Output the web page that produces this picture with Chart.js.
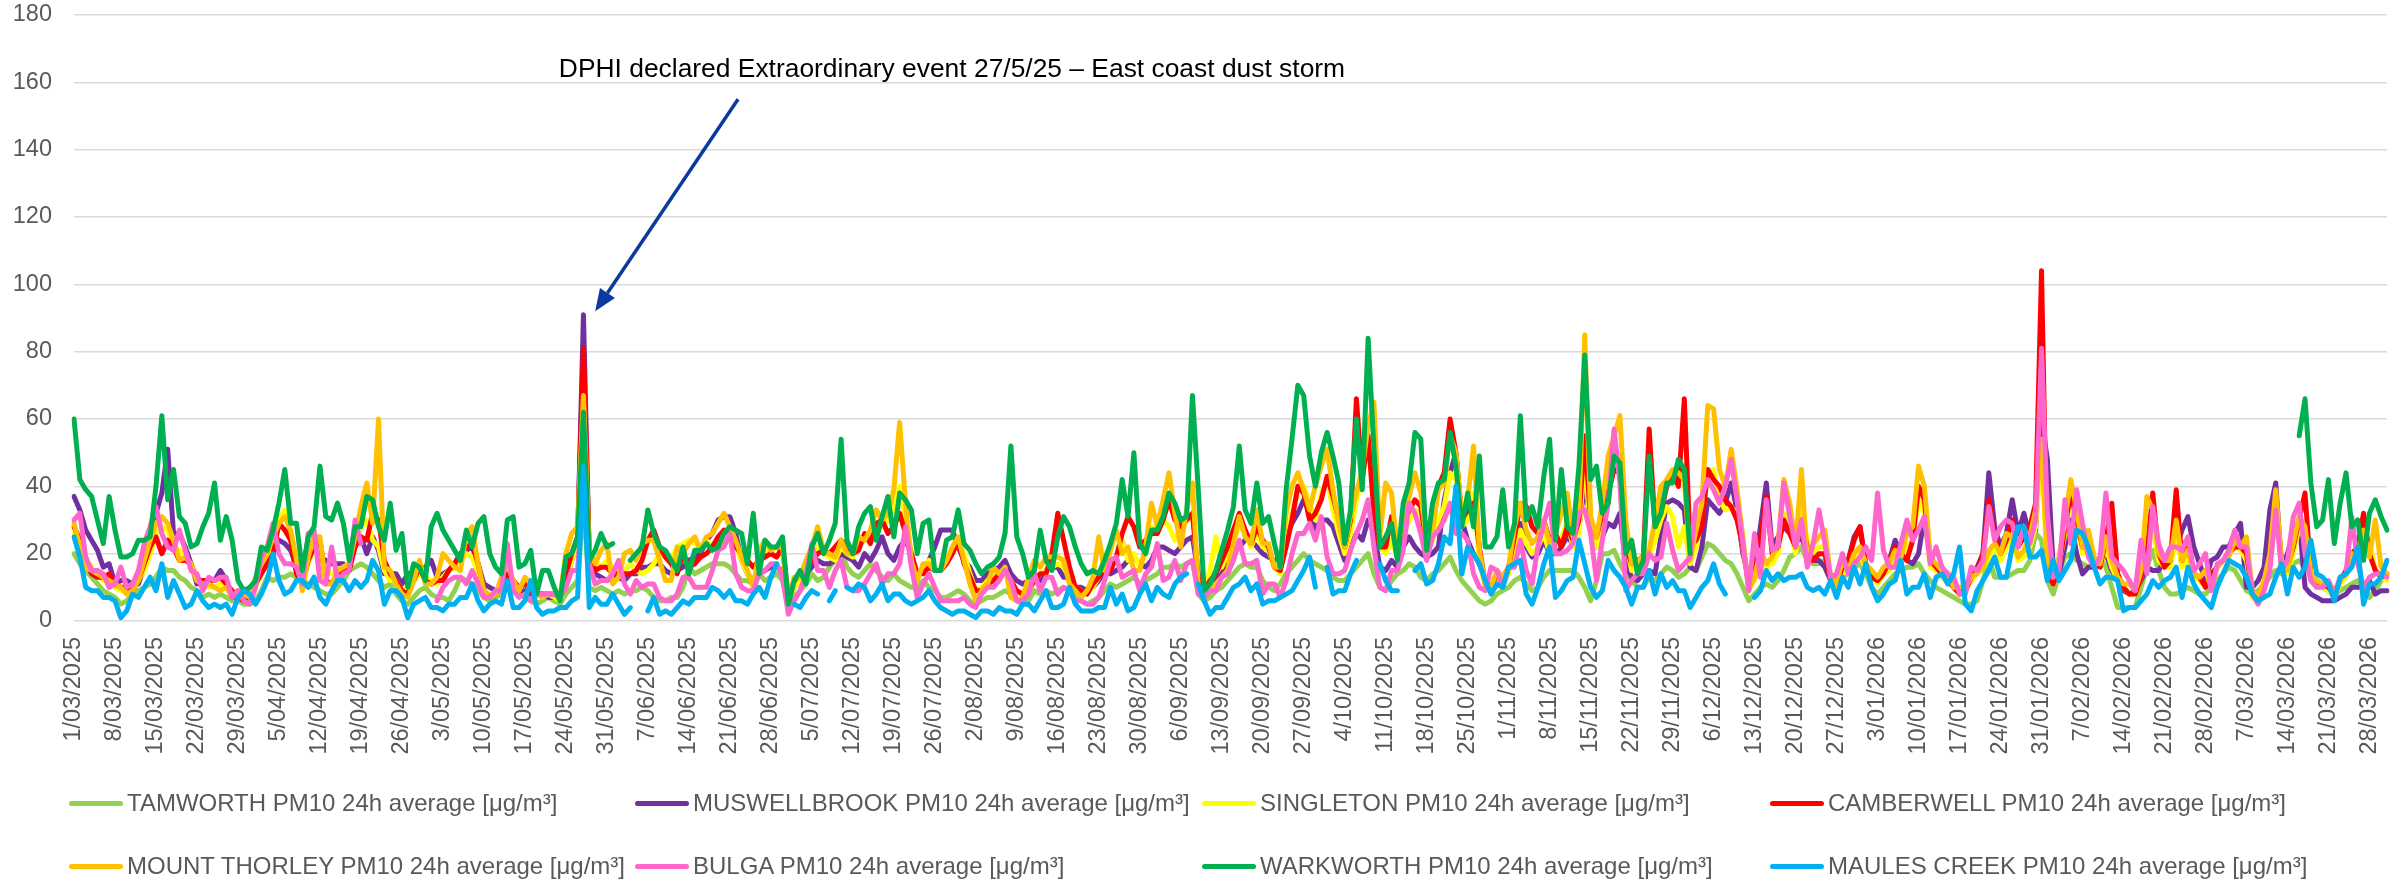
<!DOCTYPE html>
<html>
<head>
<meta charset="utf-8">
<script src="https://cdn.jsdelivr.net/npm/chart.js@4.4.1/dist/chart.umd.min.js"></script>
<style>
    html, body { margin: 0; padding: 0; background: #fff; }
    #wrap { position: relative; width: 2400px; height: 882px; }
    #myChart { position: absolute; left: 0; top: 0; }
    .legend-item {
        position: absolute; display: flex; align-items: center; height: 30px;
        font-family: 'Liberation Sans', Arial, sans-serif; font-size: 24px;
        color: #595959; white-space: nowrap;
    }
    .legend-item .swatch { width: 54px; height: 5px; border-radius: 3px; margin-right: 4px; }
</style>
</head>
<body>
<div id="wrap">
    <canvas id="myChart" width="2400" height="882"></canvas>
    <div id="legend"></div>
</div>
<script>
const _ = null;

// one value per day, 1/03/2025 .. 31/03/2026 (rows of 14 days)
const tamworth = [
    20,17,15,13,11,9,8,7,5,6,8,9,10,11,
    13,16,15,15,13,12,10,9,7,8,7,8,7,6,
    6,5,5,6,9,13,12,13,13,14,13,12,11,10,
    9,8,8,10,12,15,16,17,16,14,12,10,11,8,
    6,5,7,9,10,8,7,7,6,9,13,12,11,9,
    7,6,7,8,10,9,8,7,6,5,6,7,6,5,
    8,10,12,35,10,9,10,9,8,9,8,9,9,10,
    9,7,6,6,7,7,10,16,14,15,16,17,17,17,
    16,14,12,12,11,14,12,13,14,12,4,7,9,11,
    14,12,13,16,18,21,16,14,13,15,17,15,13,12,
    14,12,11,10,10,12,10,9,7,7,8,9,8,6,
    5,6,7,7,8,9,8,6,5,6,9,8,9,8,
    9,10,9,7,6,5,6,7,9,11,10,11,12,13,
    11,12,13,14,16,16,17,16,17,18,8,6,7,9,
    10,12,14,16,17,16,16,12,10,9,11,14,16,18,
    20,18,17,16,15,13,12,12,14,16,18,20,14,10,
    9,12,14,15,17,16,13,12,14,15,17,19,15,12,
    10,8,6,5,6,8,9,10,12,13,11,9,10,13,
    15,15,15,15,15,13,10,6,12,20,20,21,17,14,
    12,10,10,13,12,14,16,15,13,14,16,15,19,23,
    22,20,18,17,14,10,6,8,10,11,10,12,15,19,
    20,22,18,17,17,18,13,12,13,14,16,17,14,10,
    8,10,12,14,15,16,16,17,14,12,10,9,8,7,
    6,5,5,6,12,19,13,13,13,14,15,15,18,26,
    24,12,8,14,19,20,18,17,16,17,19,16,10,4,
    4,4,4,10,16,21,15,10,8,8,9,10,9,8,
    8,10,12,14,16,15,12,9,8,9,11,13,15,14,
    16,17,18,16,14,12,10,9,8,9,10,11,12,10,
    7,9,12,14
];

const muswellbrook = [
    37,33,27,24,21,16,17,11,12,12,11,11,16,25,
    32,38,51,26,26,22,17,11,12,12,12,15,12,7,
    7,6,8,12,17,21,25,24,23,21,16,12,19,25,
    19,18,17,17,17,15,24,25,20,25,21,14,14,14,
    11,14,14,15,16,18,13,14,15,17,20,21,22,17,
    11,10,9,9,12,11,9,9,8,8,8,7,7,7,
    12,18,24,91,18,14,13,12,13,13,12,14,14,16,
    16,17,17,15,14,15,16,18,19,20,24,26,30,31,
    31,26,18,14,12,14,15,16,16,15,6,10,12,14,
    16,18,17,17,18,20,19,18,16,20,18,21,25,20,
    18,22,24,20,14,15,18,22,27,27,27,22,18,16,
    12,12,14,15,16,18,14,12,11,12,14,12,15,16,
    16,13,13,10,10,9,10,12,15,14,15,16,18,19,
    17,16,18,22,22,21,20,22,24,25,14,9,10,12,
    14,17,20,22,24,24,22,20,19,18,19,25,29,32,
    36,33,27,30,30,28,23,18,22,26,24,30,27,16,
    15,18,16,22,25,22,20,19,20,22,36,44,50,30,
    24,20,17,12,10,12,13,15,20,29,22,19,20,24,
    20,20,22,25,23,28,40,30,22,25,29,28,32,17,
    13,12,14,15,14,25,35,36,35,33,16,15,22,36,
    34,32,35,41,33,20,13,16,28,41,22,25,28,26,
    23,25,20,18,18,16,12,13,16,18,25,28,17,14,
    13,15,18,24,20,18,17,20,31,19,16,14,13,12,
    9,10,14,16,20,44,28,22,26,36,26,32,25,27,
    60,48,16,14,22,30,20,14,16,16,18,20,15,12,
    9,8,9,12,16,15,15,18,20,22,27,31,22,17,
    12,18,19,22,22,26,29,10,10,12,16,33,41,16,
    20,26,30,10,8,7,6,6,6,7,8,10,10,10,
    12,8,9,9
];

const singleton = [
    26,22,18,16,14,12,12,10,9,9,10,12,15,20,
    26,28,27,22,21,20,16,12,11,10,10,11,10,8,
    8,7,7,10,14,18,24,30,33,26,18,12,17,22,
    20,15,14,15,16,17,22,28,30,24,22,15,12,12,
    9,10,12,14,13,12,11,13,15,16,18,20,19,14,
    9,8,8,10,14,12,10,11,10,8,7,8,7,6,
    12,18,24,55,20,18,16,18,16,14,15,17,15,14,
    15,17,20,19,18,22,23,24,23,22,24,22,24,23,
    25,22,18,14,12,17,20,21,22,20,6,10,12,16,
    18,22,20,19,18,22,20,19,22,24,25,27,28,30,
    33,40,30,20,14,16,18,15,16,18,20,24,20,14,
    9,10,12,14,14,15,12,8,8,9,12,14,15,16,
    17,16,13,10,9,8,10,13,20,16,18,24,18,20,
    16,20,28,26,30,28,24,27,30,32,12,9,15,25,
    16,20,24,28,26,22,26,22,21,16,14,25,32,38,
    40,35,30,38,42,33,26,20,26,36,42,55,38,22,
    20,24,19,25,30,33,32,20,24,30,34,44,42,28,
    30,38,18,10,9,12,11,14,22,27,23,20,22,26,
    20,22,24,30,22,26,48,26,22,28,38,46,48,24,
    15,16,17,19,24,30,34,31,22,28,17,22,30,44,
    45,36,33,34,32,22,10,12,18,16,17,20,32,28,
    20,33,24,20,22,22,12,10,15,14,18,20,15,13,
    11,14,15,18,18,22,24,36,32,16,15,13,12,10,
    8,9,12,14,16,19,22,18,22,24,18,19,22,28,
    50,15,11,17,26,36,30,20,24,17,16,22,16,12,
    10,8,8,13,30,28,18,16,16,25,16,19,13,12,
    10,14,16,18,20,22,21,18,7,6,10,18,34,16,
    14,20,28,24,12,10,10,9,7,11,13,18,17,22,
    24,15,13,12
];

const camberwell = [
    28,24,18,14,13,13,14,11,10,10,9,12,17,22,
    25,20,24,22,18,18,17,12,12,12,12,13,11,9,
    7,6,7,11,14,17,20,29,27,24,14,11,18,22,
    24,12,11,13,15,15,22,25,24,32,30,18,14,12,
    9,8,12,16,12,11,12,12,15,17,20,22,23,17,
    9,7,8,11,14,12,10,11,9,8,8,8,8,7,
    14,20,25,81,20,15,16,16,14,14,14,14,15,18,
    24,27,22,19,17,14,20,16,17,19,20,22,25,27,
    26,22,20,18,16,18,19,20,19,22,7,12,14,16,
    18,20,21,20,22,24,22,20,21,26,23,29,30,26,
    28,32,26,20,14,14,16,15,15,17,20,24,17,13,
    9,9,11,12,14,15,12,9,8,9,12,14,14,20,
    32,24,16,10,9,8,11,13,16,15,19,26,31,28,
    22,24,26,26,30,36,30,28,30,32,13,9,12,14,
    18,22,27,32,27,23,28,24,22,16,15,22,30,40,
    38,30,32,36,43,37,30,22,30,66,42,55,32,22,
    22,31,19,28,33,36,34,22,28,40,44,60,50,30,
    33,35,22,11,10,14,13,16,25,35,34,28,26,30,
    24,26,22,28,24,30,55,30,25,32,38,45,44,22,
    17,18,19,57,28,32,40,44,40,66,22,24,28,45,
    42,40,36,34,30,22,11,14,24,37,20,22,30,26,
    22,30,22,18,20,20,12,11,16,18,24,28,16,13,
    12,14,18,22,20,18,24,40,36,18,16,14,12,10,
    8,9,13,15,20,36,25,20,24,30,22,25,28,35,
    104,14,11,16,28,38,30,22,26,17,16,24,35,14,
    10,8,8,13,20,38,20,16,18,39,18,22,14,13,
    10,14,16,18,20,22,22,20,8,7,11,20,36,17,
    16,22,30,38,14,11,11,10,8,12,15,20,22,32,
    20,15,13,14
];

const mountThorley = [
    29,22,16,15,14,13,12,11,10,8,9,12,18,24,
    29,31,29,24,18,19,17,12,11,11,10,9,10,7,
    9,8,7,13,17,20,25,29,31,27,18,9,19,25,
    25,11,11,15,16,17,25,34,41,29,60,16,15,11,
    8,7,12,18,11,11,13,20,18,16,15,26,28,17,
    9,7,8,13,17,12,9,13,11,8,7,8,8,7,
    20,26,28,67,21,17,21,23,11,13,20,21,18,23,
    24,24,18,12,12,22,20,23,25,21,25,26,29,32,
    28,24,19,15,10,21,24,21,22,22,6,13,13,18,
    22,28,21,20,19,24,20,20,25,24,27,33,30,32,
    39,59,35,18,12,17,17,15,15,18,22,25,18,11,
    6,9,11,16,14,16,7,6,7,13,18,16,19,19,
    19,18,11,9,7,9,13,25,15,21,27,20,22,15,
    15,22,35,28,36,44,32,22,33,41,10,8,10,11,
    13,15,23,31,25,23,33,23,23,16,16,32,40,44,
    39,33,40,46,51,39,29,22,31,38,45,58,65,25,
    41,38,21,30,37,44,38,23,27,39,41,55,50,32,
    36,52,21,11,10,15,13,16,28,35,27,23,25,30,
    23,26,32,38,25,32,85,31,25,35,49,55,61,30,
    17,17,20,21,30,40,42,45,44,42,18,27,35,64,
    63,45,40,51,39,25,9,13,21,17,19,23,42,35,
    22,45,18,23,25,27,13,11,18,15,20,22,17,15,
    13,16,17,21,19,26,28,46,40,19,17,15,14,10,
    10,10,13,14,16,21,23,20,26,25,19,21,25,33,
    54,17,13,19,30,42,33,22,27,19,17,25,18,13,
    11,11,9,15,37,33,20,18,18,30,18,21,14,13,
    15,10,16,18,19,24,22,25,9,7,12,20,39,18,
    15,23,31,28,14,12,11,11,9,12,14,20,19,27,
    19,30,16,14
];

const bulga = [
    30,32,19,15,15,14,10,11,16,10,11,15,23,28,
    34,26,22,21,27,21,15,14,9,13,12,13,13,7,
    9,6,5,10,19,22,29,20,17,17,16,11,26,27,
    12,11,22,12,14,15,30,23,_,_,_,_,_,_,
    _,_,_,_,_,_,6,10,12,13,13,11,15,11,
    7,7,9,9,23,9,7,8,6,8,8,8,8,7,
    10,15,15,40,17,11,12,12,14,18,11,8,12,10,
    11,11,7,6,6,8,13,13,10,10,10,15,21,22,
    26,14,10,9,9,14,15,17,17,13,2,6,9,14,
    23,15,15,10,15,18,10,9,9,11,14,17,11,14,
    14,17,28,16,7,11,14,10,6,6,6,6,7,5,
    4,8,10,10,12,15,12,6,6,8,14,9,13,13,
    8,10,9,6,6,5,5,7,12,18,19,13,14,15,
    9,14,16,23,12,13,18,12,17,18,8,7,9,9,
    13,14,18,24,17,17,18,8,11,11,7,12,20,26,
    26,29,24,31,19,14,14,15,21,26,30,36,22,10,
    9,15,15,21,35,32,26,18,25,27,30,35,26,26,
    24,14,10,9,16,15,10,16,16,24,15,11,22,29,
    35,20,20,21,23,32,33,26,12,24,35,57,41,9,
    12,14,14,20,18,19,29,21,15,17,19,35,37,42,
    39,35,40,48,36,23,9,26,13,36,21,22,41,31,
    22,30,16,23,33,23,13,14,20,14,17,19,22,18,
    38,21,16,16,23,30,24,27,31,17,22,16,14,13,
    8,8,16,15,18,34,24,28,30,29,22,28,23,30,
    81,32,13,15,36,23,39,29,19,16,19,38,19,17,
    15,12,9,24,14,34,23,18,22,22,21,25,15,17,
    20,9,17,18,21,27,22,22,8,5,9,15,33,15,
    18,31,35,20,12,10,10,12,8,13,14,31,17,10,
    13,14,14,13
];

const warkworth = [
    60,42,39,37,30,23,37,27,19,19,20,24,24,25,
    40,61,36,45,31,29,22,23,28,32,41,24,31,24,
    12,9,10,12,22,21,27,35,45,29,29,15,25,28,
    46,31,30,35,29,18,28,28,37,36,28,24,35,21,
    26,10,17,16,12,28,32,27,24,21,18,27,22,29,
    31,20,16,14,30,31,16,17,21,8,15,15,10,6,
    19,20,25,62,18,21,26,22,23,_,_,18,20,22,
    33,26,22,21,18,15,22,14,21,21,23,21,22,26,
    28,27,26,17,32,14,24,22,22,25,5,12,15,11,
    22,26,20,24,29,54,24,20,28,32,34,24,31,37,
    25,38,36,33,20,29,30,15,15,24,25,33,23,21,
    17,14,16,17,19,26,52,25,20,13,15,27,18,15,
    25,31,28,22,17,14,15,14,18,23,29,42,31,50,
    23,20,27,27,31,38,35,30,31,67,39,9,11,15,
    21,27,34,52,33,29,41,29,31,23,16,39,54,70,
    67,49,40,50,56,49,41,23,33,60,39,84,51,22,
    25,29,18,35,41,56,54,21,35,41,42,56,46,28,
    38,28,49,22,22,25,39,22,29,61,30,34,28,43,
    54,24,45,28,26,46,79,42,46,32,35,49,47,20,
    24,14,18,49,28,32,41,41,48,45,20,_,_,_,
    _,_,_,_,_,_,_,_,_,_,_,_,_,_,
    _,_,_,_,_,_,_,_,_,_,_,_,_,_,
    _,_,_,_,_,_,_,_,_,_,_,_,_,_,
    _,_,_,_,_,_,_,_,_,_,_,_,_,_,
    _,_,_,_,_,_,_,_,_,_,_,_,_,_,
    _,_,_,_,_,_,_,_,_,_,_,_,_,_,
    _,_,_,_,_,_,_,_,_,_,_,_,_,_,
    _,_,55,66,41,28,30,42,23,35,44,28,30,18,
    32,36,31,27
];

const maulesCreek = [
    25,19,10,9,9,7,7,6,1,3,8,7,10,13,
    9,17,7,12,8,4,5,9,6,4,5,4,5,2,
    7,9,8,5,8,12,20,12,8,9,12,12,10,13,
    7,5,9,12,12,9,12,10,12,18,15,5,9,9,
    7,1,5,6,7,4,4,3,5,5,7,7,11,6,
    3,5,6,5,12,4,4,6,12,4,2,3,3,4,
    4,6,7,46,4,7,5,5,8,5,2,4,_,_,
    3,7,2,3,2,4,6,5,7,7,7,10,9,7,
    9,6,6,5,8,10,7,13,17,_,_,5,4,7,
    9,8,_,6,9,_,10,9,11,10,6,8,11,6,
    8,8,6,5,6,7,9,6,4,3,2,3,3,2,
    1,3,3,2,4,3,3,2,5,5,3,6,9,4,
    4,5,10,5,3,3,3,4,4,10,5,8,3,4,
    8,11,6,10,8,7,11,13,14,_,11,6,2,4,
    4,7,10,11,13,9,11,5,6,6,7,8,9,12,
    15,19,10,_,16,8,9,9,14,18,_,_,_,17,
    12,9,9,_,_,15,17,11,12,17,25,23,40,14,
    22,20,17,12,8,11,10,16,17,18,8,5,10,17,
    22,7,9,12,13,24,17,10,7,9,18,15,13,10,
    5,10,10,15,8,14,10,12,9,9,4,7,10,12,
    17,11,8,_,_,_,_,7,9,15,12,14,12,13,
    13,14,10,9,10,8,12,7,13,10,16,11,17,10,
    6,8,11,12,18,8,10,10,14,7,13,14,11,14,
    22,5,3,9,12,15,19,13,13,22,28,28,19,19,
    21,12,18,12,15,18,27,26,22,16,11,13,13,12,
    3,4,4,6,8,12,10,12,13,16,7,16,11,8,
    6,4,10,14,18,17,16,13,8,6,7,8,13,17,
    8,16,13,16,24,14,13,11,6,13,14,16,22,5,
    11,11,13,18
];

const seriesNames = [
    'TAMWORTH PM10 24h average [μg/m³]',
    'MUSWELLBROOK PM10 24h average [μg/m³]',
    'SINGLETON PM10 24h average [μg/m³]',
    'CAMBERWELL PM10 24h average [μg/m³]',
    'MOUNT THORLEY PM10 24h average [μg/m³]',
    'BULGA PM10 24h average [μg/m³]',
    'WARKWORTH PM10 24h average [μg/m³]',
    'MAULES CREEK PM10 24h average [μg/m³]'
];
const seriesValues = [tamworth, muswellbrook, singleton, camberwell, mountThorley, bulga, warkworth, maulesCreek];
const seriesColors = ['#92D050', '#7030A0', '#FFFF00', '#FF0000', '#FFC000', '#FF66CC', '#00B050', '#00B0F0'];

const tickLabels = [
    '1/03/2025', '8/03/2025', '15/03/2025', '22/03/2025', '29/03/2025', '5/04/2025', '12/04/2025',
    '19/04/2025', '26/04/2025', '3/05/2025', '10/05/2025', '17/05/2025', '24/05/2025', '31/05/2025',
    '7/06/2025', '14/06/2025', '21/06/2025', '28/06/2025', '5/07/2025', '12/07/2025', '19/07/2025',
    '26/07/2025', '2/08/2025', '9/08/2025', '16/08/2025', '23/08/2025', '30/08/2025', '6/09/2025',
    '13/09/2025', '20/09/2025', '27/09/2025', '4/10/2025', '11/10/2025', '18/10/2025', '25/10/2025',
    '1/11/2025', '8/11/2025', '15/11/2025', '22/11/2025', '29/11/2025', '6/12/2025', '13/12/2025',
    '20/12/2025', '27/12/2025', '3/01/2026', '10/01/2026', '17/01/2026', '24/01/2026', '31/01/2026',
    '7/02/2026', '14/02/2026', '21/02/2026', '28/02/2026', '7/03/2026', '14/03/2026', '21/03/2026',
    '28/03/2026'
];
const yTicks = [0, 20, 40, 60, 80, 100, 120, 140, 160, 180];

// daily categories
const dayCount = tamworth.length;
const categories = [];
for (let i = 0; i < dayCount; i++) {
    const d = new Date(2025, 2, 1 + i);
    categories.push(d.getDate() + '/' + String(d.getMonth() + 1).padStart(2, '0') + '/' + d.getFullYear());
}
const tickSet = new Set(tickLabels);

// annotation, in data units (category index, value)
const noteText = 'DPHI declared Extraordinary event 27/5/25 \u2013 East coast dust storm';
const noteAnchor = [82.8, 161.5];
const arrowTail = [113.4, 155];
const arrowTip = [89, 92];

const FONT = "'Liberation Sans', Arial, sans-serif";

const notePlugin = {
    id: 'dustNote',
    afterDatasetsDraw(chart) {
        const { ctx, scales: { x, y } } = chart;
        const tx = x.getPixelForValue(arrowTail[0]), ty = y.getPixelForValue(arrowTail[1]);
        const hx = x.getPixelForValue(arrowTip[0]), hy = y.getPixelForValue(arrowTip[1]);
        const ang = Math.atan2(hy - ty, hx - tx);
        const headLen = 22, headW = 9;
        const bx = hx - headLen * Math.cos(ang), by = hy - headLen * Math.sin(ang);

        ctx.save();
        ctx.strokeStyle = '#0B3A9E';
        ctx.fillStyle = '#0B3A9E';
        ctx.lineWidth = 3.5;
        ctx.beginPath();
        ctx.moveTo(tx, ty);
        ctx.lineTo(bx, by);
        ctx.stroke();
        ctx.beginPath();
        ctx.moveTo(hx, hy);
        ctx.lineTo(bx + headW * Math.sin(ang), by - headW * Math.cos(ang));
        ctx.lineTo(bx - headW * Math.sin(ang), by + headW * Math.cos(ang));
        ctx.closePath();
        ctx.fill();

        // fit the note to the width it has in the original
        ctx.font = '24px ' + FONT;
        const w24 = ctx.measureText(noteText).width;
        const size = 24 * 786 / w24;
        ctx.font = size.toFixed(1) + 'px ' + FONT;
        ctx.fillStyle = '#000000';
        ctx.textAlign = 'left';
        ctx.textBaseline = 'alphabetic';
        ctx.fillText(noteText, x.getPixelForValue(noteAnchor[0]), y.getPixelForValue(noteAnchor[1]));
        ctx.restore();
    }
};

const datasets = seriesValues.map((vals, i) => ({
    label: seriesNames[i],
    data: vals,
    borderColor: seriesColors[i],
    backgroundColor: seriesColors[i],
    borderWidth: 5,
    pointRadius: 0,
    pointHoverRadius: 0,
    tension: 0,
    spanGaps: false,
    fill: false,
    borderJoinStyle: 'round',
    borderCapStyle: 'round',
    order: seriesValues.length - 1 - i   // later series drawn on top, like the original
}));

const ctx = document.getElementById('myChart').getContext('2d');
const chart = new Chart(ctx, {
    type: 'line',
    data: { labels: categories, datasets: datasets },
    options: {
        responsive: false,
        animation: false,
        events: [],
        layout: { padding: { top: 15, right: 13, bottom: 102, left: 0 } },
        plugins: {
            legend: { display: false },
            tooltip: { enabled: false }
        },
        scales: {
            x: {
                type: 'category',
                offset: false,
                grid: { display: false, drawTicks: false },
                border: { display: false },
                ticks: {
                    autoSkip: false,
                    minRotation: 90,
                    maxRotation: 90,
                    padding: 16,
                    color: '#595959',
                    font: { family: FONT, size: 23.5 },
                    callback: function (value) {
                        const lab = this.getLabelForValue(value);
                        return tickSet.has(lab) ? lab : '';
                    }
                },
                afterFit: s => {
                    s.height = 159;
                    s.paddingLeft = 0;
                    s.paddingRight = 0;
                }
            },
            y: {
                min: 0,
                max: 180,
                grid: { color: '#D9D9D9', lineWidth: 1.5, drawTicks: false },
                border: { display: false },
                afterBuildTicks: s => { s.ticks = yTicks.map(v => ({ value: v })); },
                ticks: {
                    padding: 22,
                    color: '#595959',
                    font: { family: FONT, size: 23.5 }
                },
                afterFit: s => {
                    s.width = 74;
                    s.paddingTop = 0;
                    s.paddingBottom = 0;
                }
            }
        }
    },
    plugins: [notePlugin]
});

// legend, laid out in a 4 x 2 grid like the original
const legendCols = [69, 635, 1202, 1770];
const legendRows = [803, 866];
const legendBox = document.getElementById('legend');
seriesNames.forEach((name, i) => {
    const item = document.createElement('div');
    item.className = 'legend-item';
    item.style.left = legendCols[i % 4] + 'px';
    item.style.top = (legendRows[Math.floor(i / 4)] - 15) + 'px';
    const sw = document.createElement('span');
    sw.className = 'swatch';
    sw.style.background = seriesColors[i];
    const tx = document.createElement('span');
    tx.textContent = name;
    item.appendChild(sw);
    item.appendChild(tx);
    legendBox.appendChild(item);
});
</script>
</body>
</html>
